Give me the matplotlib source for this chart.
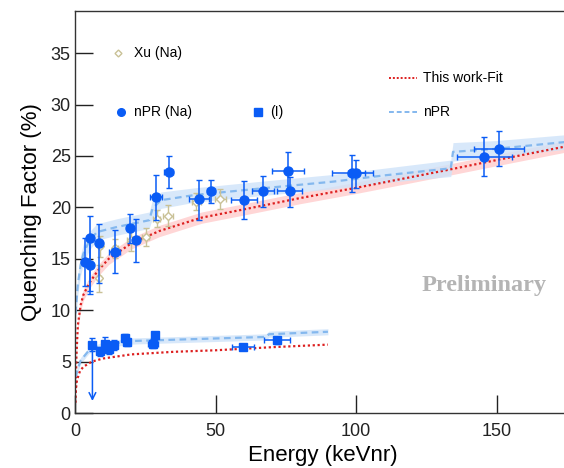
import matplotlib
matplotlib.use("Agg")
import matplotlib.pyplot as plt
import numpy as np
from matplotlib import font_manager

names = {f.name for f in font_manager.fontManager.ttflist}
narrow = 'Liberation Sans Narrow' if 'Liberation Sans Narrow' in names else 'Liberation Sans'
plt.rcParams['font.family'] = [narrow, 'DejaVu Sans']

# ---- nPR (Na) measurements ----
na_x = [3.6, 5.4, 5.4, 8.4, 14.1, 19.6, 21.7, 28.9, 33.3, 44.1, 48.4, 60.1, 66.9, 75.8, 76.4, 98.7, 100.1, 145.7, 150.8]
na_y = [14.65, 14.4, 17.0, 16.55, 15.65, 18.0, 16.8, 20.97, 23.4, 20.8, 21.55, 20.75, 21.55, 23.5, 21.55, 23.3, 23.3, 24.9, 25.7]
na_ylo = [2.25, 2.5, 5.4, 3.95, 2.05, 1.45, 2.1, 2.2, 1.55, 2.05, 1.15, 1.85, 1.5, 2.0, 1.5, 1.8, 1.45, 1.85, 1.7]
na_yhi = [2.35, 2.5, 2.2, 1.85, 2.15, 1.35, 2.1, 2.2, 1.6, 1.85, 1.1, 1.8, 1.55, 1.9, 1.45, 1.8, 1.3, 1.9, 1.7]
na_xerr = [0.4, 0.4, 0.4, 0.5, 2.0, 0.6, 1.2, 2.2, 1.5, 3.6, 1.5, 4.5, 3.8, 5.7, 4.4, 7.3, 3.0, 9.8, 9.0]

# ---- nPR (I) measurements ----
i_x = [6.2, 8.8, 10.8, 12.2, 13.8, 17.8, 18.6, 27.6, 28.5, 59.7, 71.9]
i_y = [6.66, 6.0, 6.75, 6.2, 6.6, 7.3, 6.9, 6.75, 7.57, 6.43, 7.07]
i_yerr = [0.6, 0.45, 0.6, 0.5, 0.5, 0.4, 0.35, 0.4, 0.35, 0.3, 0.35]
i_xerr = [0.3, 0.5, 0.5, 0.5, 0.5, 0.5, 0.5, 1.8, 0.8, 3.9, 4.5]
i_limit_low = 0.9

# ---- Xu (Na) measurements ----
xu_x = [8.7, 8.9, 14.4, 19.8, 25.2, 29.0, 33.0, 43.2, 51.7]
xu_y = [13.1, 16.2, 16.0, 16.8, 17.1, 18.9, 19.2, 20.55, 20.8]
xu_yerr = [1.3, 1.0, 0.9, 1.0, 0.9, 0.8, 1.0, 0.8, 1.0]
xu_xerr = [0.7, 0.7, 1.0, 1.2, 1.3, 1.3, 1.7, 1.6, 2.0]

# ---- This work fit (Na) ----
fit_na_x = [0.2, 0.5, 1, 2, 3, 5, 8, 12, 20, 30, 45, 60, 80, 100, 130, 150, 176]
fit_na_y = [1.0, 5.5, 8.5, 10.5, 11.5, 12.6, 13.8, 15.0, 16.5, 17.7, 19.0, 19.8, 20.9, 21.9, 23.5, 24.6, 26.0]
fit_na_band = 0.55
# ---- This work fit (I) ----
fit_i_x = [0.2, 0.7, 1.8, 3, 6, 10, 20, 35, 50, 70, 90]
fit_i_y = [2.0, 3.2, 4.1, 4.5, 5.0, 5.3, 5.7, 5.95, 6.1, 6.4, 6.65]

# ---- nPR model (Na) ----
npr_na_x = [0.2, 1, 2, 3, 5, 7.8, 15, 26.4, 27.6, 30.6, 42.5, 66.5, 91.7, 109.7, 133.7, 134.5, 150, 176]
npr_na_y = [9.7, 12.5, 14.4, 15.5, 16.7, 17.6, 18.1, 18.75, 19.9, 20.7, 21.2, 21.85, 22.5, 23.1, 23.8, 25.4, 25.7, 26.4]
npr_na_band = [0.9, 1.0, 1.0, 1.0, 0.9, 0.8, 0.8, 0.8, 0.9, 0.8, 0.7, 0.7, 0.7, 0.7, 0.8, 0.9, 0.8, 0.7]
# ---- nPR model (I) ----
npr_i_x = [0.2, 1, 2, 5, 10, 20, 50, 68, 69, 90]
npr_i_y = [3.5, 4.3, 5.1, 6.1, 6.6, 7.0, 7.25, 7.4, 7.66, 7.9]
npr_i_band = 0.3

BLUE = '#0a5cf5'
XU = '#c9c196'
RED = '#dd1f1f'
REDBAND = '#ffcfcf'
LBLUE = '#84b8ee'
BBAND = '#cfe3f9'

fig = plt.figure(figsize=(5.64, 4.68), dpi=100)
ax = fig.add_axes([75/564, 1-413/468, 1-75/564+0.01, (413-11)/468])

# bands
fna_x = np.array(fit_na_x); fna_y = np.array(fit_na_y)
ax.fill_between(fna_x, fna_y-fit_na_band, fna_y+fit_na_band, color=REDBAND, lw=0, zorder=1, alpha=0.85)
nx = np.array(npr_na_x); ny = np.array(npr_na_y); nb = np.array(npr_na_band)
ax.fill_between(nx, ny-nb, ny+nb, color=BBAND, lw=0, zorder=1, alpha=0.8)
ix = np.array(npr_i_x); iy = np.array(npr_i_y)
ax.fill_between(ix, iy-npr_i_band, iy+npr_i_band, color=BBAND, lw=0, zorder=1, alpha=0.8)

ax.plot(fit_na_x, fit_na_y, ls=(0, (1, 1.2)), color=RED, lw=1.6, zorder=2)
ax.plot(fit_i_x, fit_i_y, ls=(0, (1, 1.2)), color=RED, lw=1.6, zorder=2)
ax.plot(npr_na_x, npr_na_y, ls=(0, (3, 2)), color=LBLUE, lw=1.6, zorder=2)
ax.plot(npr_i_x, npr_i_y, ls=(0, (3, 2)), color=LBLUE, lw=1.6, zorder=2)

# Xu
ax.errorbar(xu_x, xu_y, yerr=xu_yerr, xerr=xu_xerr, fmt='D', ms=4, mfc='white', mec=XU, mew=1.0,
            ecolor=XU, elinewidth=1.0, capsize=2, zorder=3)
# nPR Na
ax.errorbar(na_x, na_y, yerr=[na_ylo, na_yhi], xerr=na_xerr, fmt='o', ms=6.5, color=BLUE,
            ecolor=BLUE, elinewidth=1.1, capsize=2, zorder=4)
# nPR I
ax.errorbar(i_x, i_y, yerr=i_yerr, xerr=i_xerr, fmt='s', ms=6, color=BLUE,
            ecolor=BLUE, elinewidth=1.1, capsize=2, zorder=4)
ax.annotate('', xy=(i_x[0], i_limit_low), xytext=(i_x[0], i_y[0]),
            arrowprops=dict(arrowstyle='->', color=BLUE, lw=1.1, mutation_scale=12), zorder=4)

ax.set_xlim(0, 176)
ax.set_ylim(0, 39.1)
ax.set_xticks([0, 50, 100, 150])
ax.set_yticks([0, 5, 10, 15, 20, 25, 30, 35])
ax.tick_params(direction='in', length=13, width=1, labelsize=13, pad=3, colors='#222222')
ax.tick_params(axis='x', pad=7)
for s in ['left', 'bottom', 'top']:
    ax.spines[s].set_linewidth(1.0)
    ax.spines[s].set_color('#333333')
ax.spines['right'].set_visible(False)
ax.set_xlabel('Energy (keVnr)', fontsize=16, labelpad=4)
ax.set_ylabel('Quenching Factor (%)', fontsize=16, labelpad=6)

# legend-like annotations (figure pixel coordinates)
def fp(x, y):
    return (x/564, 1-y/468)

LFS = 10
fig.lines.append(plt.Line2D([118/564], [1-53/468], marker='D', ms=3.5, mfc='white', mec=XU, mew=1, transform=fig.transFigure))
fig.text(*fp(134, 53), 'Xu (Na)', fontsize=LFS, va='center', ha='left')
fig.lines.append(plt.Line2D([121/564], [1-112/468], marker='o', ms=5.5, color=BLUE, transform=fig.transFigure))
fig.text(*fp(134, 112), 'nPR (Na)', fontsize=LFS, va='center', ha='left')
fig.lines.append(plt.Line2D([258/564], [1-112/468], marker='s', ms=6, color=BLUE, transform=fig.transFigure))
fig.text(*fp(270, 112), '(I)', fontsize=LFS, va='center', ha='left')
fig.lines.append(plt.Line2D([389/564, 417/564], [1-78/468]*2, ls=(0, (1, 1)), color=RED, lw=1.4, transform=fig.transFigure))
fig.text(*fp(423, 78), 'This work-Fit', fontsize=LFS, va='center', ha='left')
fig.lines.append(plt.Line2D([389/564, 417/564], [1-112/468]*2, ls=(0, (2.5, 1.5)), color=LBLUE, lw=1.4, transform=fig.transFigure))
fig.text(*fp(423, 112), 'nPR', fontsize=LFS, va='center', ha='left')

fig.text(*fp(484, 285), 'Preliminary', fontsize=17.5, fontweight='bold', color='#b4b4b4',
         family=['Liberation Serif', 'DejaVu Serif'], ha='center', va='center')

fig.savefig('out.png', dpi=100)
